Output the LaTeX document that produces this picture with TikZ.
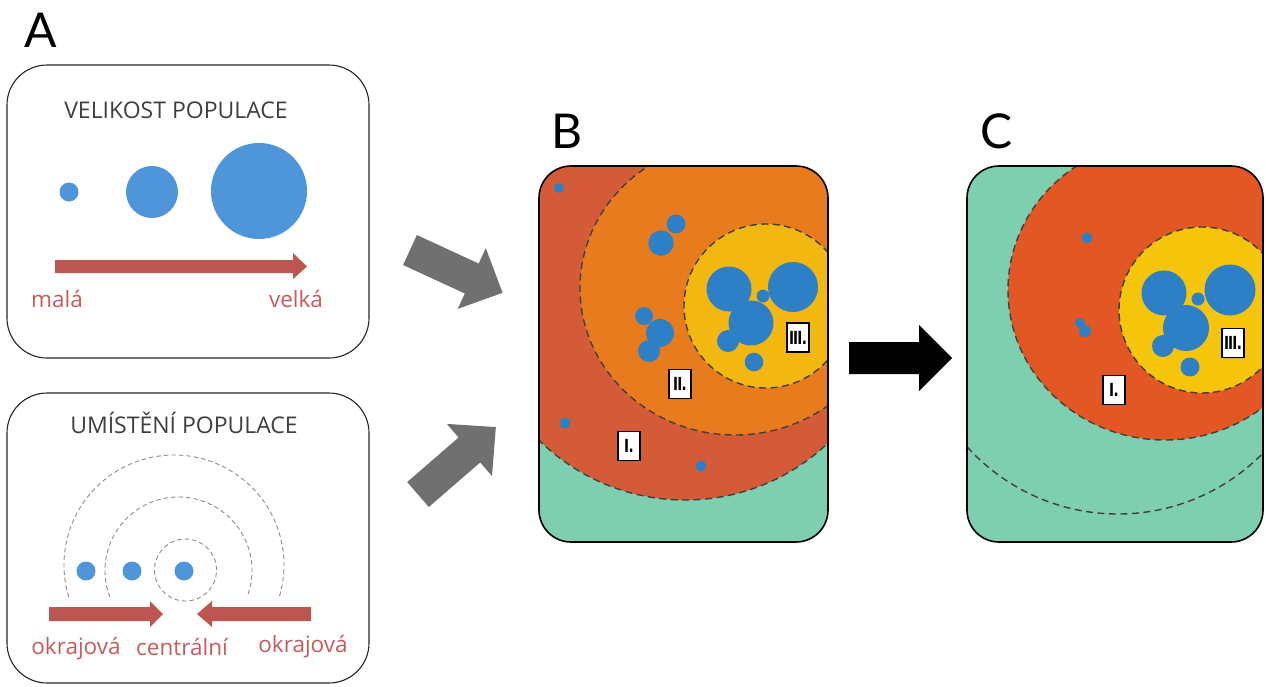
\documentclass[tikz,border=0pt]{standalone}
\usepackage{fontspec}
\setmainfont{Open Sans}
\newfontfamily\letterfont{Lato}
\newfontfamily\tagfont{DejaVu Sans}
\usetikzlibrary{shadows}
\definecolor{titlegray}{HTML}{3F3F3F}
\definecolor{ablue}{HTML}{4F95DA}
\definecolor{dotblue}{HTML}{2E80C6}
\definecolor{arrowred}{HTML}{BC5652}
\definecolor{textred}{HTML}{C65B5B}
\definecolor{zred}{HTML}{D35B38}
\definecolor{zorange}{HTML}{E87B1D}
\definecolor{zyellow}{HTML}{F2B811}
\definecolor{zgreen}{HTML}{7DCFAF}
\definecolor{cred}{HTML}{E25724}
\definecolor{cyellow}{HTML}{F5C50C}
\definecolor{blockgray}{HTML}{707070}
\newcommand{\tagtext}[1]{\scalebox{0.75}[1]{#1}}
\begin{document}
\begin{tikzpicture}[x=1pt, y=-1pt,
  panelA/.style={draw=black!85, line width=1.1pt, rounded corners=40pt},
  panelB/.style={draw=black, line width=1.6pt, rounded corners=32pt},
  title/.style={font=\fontsize{23}{26}\selectfont, text=titlegray, anchor=base, inner sep=0pt},
  redtext/.style={font=\fontsize{22.5}{26}\selectfont, text=textred, anchor=base, inner sep=0pt},
  letter/.style={font=\letterfont\fontsize{48}{50}\selectfont, anchor=base, inner sep=0pt},
  zone/.style={draw=black!75, line width=1.4pt, dash pattern=on 7pt off 4.5pt},
  orbit/.style={draw=black!45, line width=0.9pt, dash pattern=on 4.5pt off 3pt},
  tag/.style={draw=black, fill=white, line width=1.6pt, minimum width=22pt, minimum height=29pt,
    inner sep=0pt, drop shadow={opacity=0.35, shadow xshift=1.2pt, shadow yshift=-1.2pt},
    font=\tagfont\bfseries\fontsize{18}{18}\selectfont},
  blockarrow/.style={fill=blockgray},
  redarrow/.style={fill=arrowred},
]
\useasboundingbox (0,0) rectangle (1266,686);

% ---------- labels
\node[letter] (labA) at (41,47) {A};
\node[letter] (labB) at (567,148) {B};
\node[letter] (labC) at (997,148) {C};

% ---------- panel A top
\draw[panelA] (7,65) rectangle (369,358);
\node[title] (t1) at (176,118) {VELIKOST POPULACE};
\fill[ablue] (69,192) circle[radius=9.5pt];
\fill[ablue] (152,192) circle[radius=26pt];
\fill[ablue] (259,191) circle[radius=48pt];
\fill[redarrow] (55,260) -- (293,260) -- (293,253) -- (307,266.5) -- (293,279) -- (293,273) -- (55,273) -- cycle;
\node[redtext] (mala) at (57,307) {malá};
\node[redtext] (velka) at (296,307) {velká};

% ---------- panel A bottom
\draw[panelA] (7,393) rectangle (369,683);
\node[title] (t2) at (184,433) {UMÍSTĚNÍ POPULACE};
\draw[orbit] (174,565) ++(196.9:110pt) arc[start angle=196.9, end angle=-16.9, radius=110pt];
\draw[orbit] (178.5,570.5) ++(201.1:73.5pt) arc[start angle=201.1, end angle=-21.1, radius=73.5pt];
\draw[orbit] (185.5,570) circle[radius=31pt];
\fill[ablue] (86,571) circle[radius=9.5pt];
\fill[ablue] (132,571) circle[radius=9.5pt];
\fill[ablue] (184,571) circle[radius=9.5pt];
\fill[redarrow] (49,607) -- (150,607) -- (150,601) -- (163,614) -- (150,627) -- (150,621) -- (49,621) -- cycle;
\fill[redarrow] (311,607) -- (212,607) -- (212,601) -- (197,614) -- (212,627) -- (212,621) -- (311,621) -- cycle;
\node[redtext] (okr1) at (76,654) {okrajová};
\node[redtext] (centr) at (182,655) {centrální};
\node[redtext] (okr2) at (303,652) {okrajová};

% ---------- gray block arrows
\begin{scope}[shift={(410,250)}, rotate=-24.8]
  \fill[blockarrow] (0,-16.5) -- (68,-16.5) -- (68,-33.5) -- (102,0) -- (68,33.5) -- (68,16.5) -- (0,16.5) -- cycle;
\end{scope}
\begin{scope}[shift={(418,494.5)}, rotate=40.9]
  \fill[blockarrow] (0,-16.5) -- (68,-16.5) -- (68,-34.5) -- (103,0) -- (68,34.5) -- (68,16.5) -- (0,16.5) -- cycle;
\end{scope}

% ---------- black arrow
\fill[black] (849,342) -- (919,342) -- (919,325) -- (952,358) -- (919,391) -- (919,374) -- (849,374) -- cycle;

% ---------- panel B
\begin{scope}
  \clip[rounded corners=32pt] (539,166) rectangle (828,542);
  \fill[zgreen] (539,166) rectangle (828,542);
  \fill[zred] (685,292) circle[radius=208pt];
  \fill[zorange] (735,288) ellipse[x radius=155pt, y radius=147pt];
  \fill[zyellow] (766,306) circle[radius=82pt];
  \draw[zone] (685,292) circle[radius=208pt];
  \draw[zone] (735,288) ellipse[x radius=155pt, y radius=147pt];
  \draw[zone] (766,306) circle[radius=82pt];
  \fill[dotblue] (559,188) circle[radius=5pt];
  \fill[dotblue] (676,224) circle[radius=9.5pt];
  \fill[dotblue] (661,243) circle[radius=12.7pt];
  \fill[dotblue] (644,316) circle[radius=9pt];
  \fill[dotblue] (660,333) circle[radius=14pt];
  \fill[dotblue] (649,351) circle[radius=11pt];
  \fill[dotblue] (565,423) circle[radius=5.5pt];
  \fill[dotblue] (701,466) circle[radius=5.5pt];
  \fill[dotblue] (729,289) circle[radius=22.5pt];
  \fill[dotblue] (793,287) circle[radius=25pt];
  \fill[dotblue] (763,296) circle[radius=6.5pt];
  \fill[dotblue] (751,323) circle[radius=22.5pt];
  \fill[dotblue] (728,341) circle[radius=11pt];
  \fill[dotblue] (754,362) circle[radius=9.3pt];
\end{scope}
\draw[panelB] (539,166) rectangle (828,542);
\node[tag] (bIII) at (798,337.5) {\tagtext{I\kern-1.2pt I\kern-1.2pt I\kern-0.8pt.}};
\node[tag] (bII) at (680,384) {\tagtext{I\kern-1.2pt I\kern-0.8pt.}};
\node[tag] (bI) at (629,446) {\tagtext{I\kern-0.8pt.}};

% ---------- panel C
\begin{scope}
  \clip[rounded corners=32pt] (967,166) rectangle (1263,542);
  \fill[zgreen] (967,166) rectangle (1263,542);
  \fill[cred] (1165,290) ellipse[x radius=157pt, y radius=150pt];
  \fill[cyellow] (1202,310) circle[radius=83pt];
  \draw[zone] (1165,290) ellipse[x radius=157pt, y radius=150pt];
  \draw[zone] (1202,310) circle[radius=83pt];
  \draw[zone] (1118,311) ++(222:203pt) arc[start angle=222, end angle=318, radius=203pt];
  \fill[dotblue] (1087,238) circle[radius=5.5pt];
  \fill[dotblue] (1080,323) circle[radius=5pt];
  \fill[dotblue] (1085,331) circle[radius=6pt];
  \fill[dotblue] (1164,293) circle[radius=22.5pt];
  \fill[dotblue] (1230,290) circle[radius=25.5pt];
  \fill[dotblue] (1198,299) circle[radius=6.5pt];
  \fill[dotblue] (1186,328) circle[radius=23pt];
  \fill[dotblue] (1163,346) circle[radius=11pt];
  \fill[dotblue] (1190,367) circle[radius=9.5pt];
\end{scope}
\draw[panelB] (967,166) rectangle (1263,542);
\node[tag] (cIII) at (1233,343) {\tagtext{I\kern-1.2pt I\kern-1.2pt I\kern-0.8pt.}};
\node[tag] (cI) at (1114,390) {\tagtext{I\kern-0.8pt.}};
\end{tikzpicture}
\end{document}
